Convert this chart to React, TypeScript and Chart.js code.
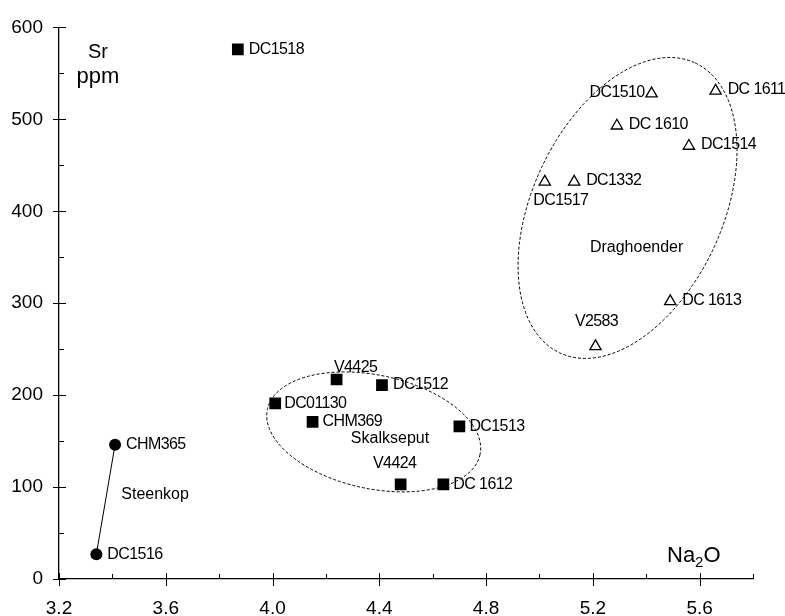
import React, { useEffect, useRef } from 'react';
import { Chart, registerables } from 'chart.js';

Chart.register(...registerables);

// ---- data ----
const steenkopNames = ['CHM365', 'DC1516'];
const steenkopNa2O = [3.41, 3.34];
const steenkopSr = [146, 27];

const skalkNames = ['DC1518', 'V4425', 'DC1512', 'DC01130', 'CHM369', 'DC1513', 'V4424', 'DC 1612'];
const skalkNa2O = [3.87, 4.24, 4.41, 4.01, 4.15, 4.70, 4.48, 4.64];
const skalkSr = [576, 217, 211, 191, 171, 166, 103, 103];

const dragNames = ['DC1510', 'DC 1611', 'DC 1610', 'DC1514', 'DC1332', 'DC1517', 'DC 1613', 'V2583'];
const dragNa2O = [5.42, 5.66, 5.29, 5.56, 5.13, 5.02, 5.49, 5.21];
const dragSr = [528, 531, 493, 471, 432, 432, 302, 253];

const xTickLabels = ['3.2', '3.6', '4.0', '4.4', '4.8', '5.2', '5.6'];
const yTickLabels = ['0', '100', '200', '300', '400', '500', '600'];

// ---- label placement (style, not data) ----
// [dx, dy, align]
const steenkopPlace: [number, number, CanvasTextAlign][] = [[11, 0, 'left'], [11, 0, 'left']];
const skalkPlace: [number, number, CanvasTextAlign][] = [
  [11, 0, 'left'], [19, -12, 'center'], [11, 0, 'left'], [9, 0, 'left'],
  [10, 0, 'left'], [10, 0, 'left'], [-6, -21, 'center'], [10, 0, 'left'],
];
const dragPlace: [number, number, CanvasTextAlign][] = [
  [-7, -1, 'right'], [12, -1, 'left'], [12, -1, 'left'], [12, -1, 'left'],
  [12, -1, 'left'], [16, 19, 'center'], [12, -1, 'left'], [1, -25, 'center'],
];

const FONT = '"Liberation Sans", Arial, Helvetica, sans-serif';

const toPts = (xs: number[], ys: number[]) => xs.map((v, i) => ({ x: v, y: ys[i] }));

const annotPlugin = {
  id: 'annot',
  afterDraw(chart: any) {
    const { ctx, scales } = chart;
    const x = scales.x;
    const y = scales.y;
    ctx.save();
    ctx.strokeStyle = '#000';
    ctx.fillStyle = '#000';

    // axis tick marks
    ctx.lineWidth = 1;
    ctx.setLineDash([]);
    const x0 = x.left;
    const y0 = y.bottom;
    x.ticks.forEach((t: any) => {
      const px = Math.round(x.getPixelForValue(t.value)) + 0.5;
      const major = Math.round(t.value * 10) % 4 === 0;
      ctx.beginPath();
      if (major) {
        ctx.moveTo(px, y0 - 6);
        ctx.lineTo(px, y0 + 7);
      } else {
        ctx.moveTo(px, y0 - 5);
        ctx.lineTo(px, y0);
      }
      ctx.stroke();
    });
    y.ticks.forEach((t: any) => {
      const py = Math.round(y.getPixelForValue(t.value)) + 0.5;
      const major = Math.round(t.value) % 100 === 0;
      ctx.beginPath();
      if (major) {
        ctx.moveTo(x0 - 6, py);
        ctx.lineTo(x0 + 7, py);
      } else {
        ctx.moveTo(x0, py);
        ctx.lineTo(x0 + 5, py);
      }
      ctx.stroke();
    });

    // dashed ellipses
    ctx.setLineDash([3, 2]);
    ctx.lineWidth = 1;
    const ell = (na: number, sr: number, rx: number, ry: number, rotDeg: number) => {
      ctx.beginPath();
      ctx.ellipse(x.getPixelForValue(na), y.getPixelForValue(sr), rx, ry, (rotDeg * Math.PI) / 180, 0, Math.PI * 2);
      ctx.stroke();
    };
    ell(4.379, 160, 108.7, 56.8, 12);
    ell(5.33, 403.6, 160, 95, -65);
    ctx.setLineDash([]);

    // point labels
    ctx.font = `16px ${FONT}`;
    (ctx as any).letterSpacing = '-0.6px';
    ctx.textBaseline = 'middle';
    const lab = (names: string[], xs: number[], ys: number[], place: [number, number, CanvasTextAlign][]) => {
      names.forEach((n, i) => {
        const px = x.getPixelForValue(xs[i]);
        const py = y.getPixelForValue(ys[i]);
        const [dx, dy, al] = place[i];
        ctx.textAlign = al;
        ctx.fillText(n, px + dx, py + dy);
      });
    };
    lab(steenkopNames, steenkopNa2O, steenkopSr, steenkopPlace);
    lab(skalkNames, skalkNa2O, skalkSr, skalkPlace);
    lab(dragNames, dragNa2O, dragSr, dragPlace);

    // group labels
    (ctx as any).letterSpacing = '0px';
    ctx.font = `16px ${FONT}`;
    ctx.textAlign = 'center';
    ctx.fillText('Steenkop', x.getPixelForValue(3.56), y.getPixelForValue(92));
    ctx.fillText('Skalkseput', x.getPixelForValue(4.44), y.getPixelForValue(153));
    ctx.fillText('Draghoender', x.getPixelForValue(5.364), y.getPixelForValue(361));

    // axis titles
    ctx.textBaseline = 'alphabetic';
    ctx.font = `20px ${FONT}`;
    ctx.fillText('Sr', 98, 58);
    ctx.font = `22px ${FONT}`;
    ctx.fillText('ppm', 98, 83);

    ctx.textAlign = 'left';
    ctx.font = `22px ${FONT}`;
    let tx = 667;
    const by = 562;
    ctx.fillText('Na', tx, by);
    tx += ctx.measureText('Na').width;
    ctx.font = `15px ${FONT}`;
    ctx.fillText('2', tx, by + 5);
    tx += ctx.measureText('2').width;
    ctx.font = `22px ${FONT}`;
    ctx.fillText('O', tx, by);

    ctx.restore();
  },
};

export default function App() {
  const ref = useRef<HTMLCanvasElement | null>(null);

  useEffect(() => {
    if (!ref.current) return;
    const chart = new Chart(ref.current, {
      type: 'scatter',
      data: {
        datasets: [
          {
            label: 'Steenkop',
            data: toPts(steenkopNa2O, steenkopSr),
            showLine: true,
            borderColor: '#000',
            borderWidth: 1,
            pointStyle: 'circle',
            pointRadius: 6,
            pointBackgroundColor: '#000',
            pointBorderColor: '#000',
            pointBorderWidth: 0,
          },
          {
            label: 'Skalkseput',
            data: toPts(skalkNa2O, skalkSr),
            showLine: false,
            pointStyle: 'rect',
            pointRadius: 8.3,
            pointBackgroundColor: '#000',
            pointBorderColor: '#000',
            pointBorderWidth: 0,
          },
          {
            label: 'Draghoender',
            data: toPts(dragNa2O, dragSr),
            showLine: false,
            pointStyle: 'triangle',
            pointRadius: 6.5,
            pointBackgroundColor: 'rgba(0,0,0,0)',
            pointBorderColor: '#000',
            pointBorderWidth: 1.3,
          },
        ],
      },
      options: {
        animation: false,
        responsive: false,
        events: [],
        layout: { padding: { top: 20, right: 32, left: 0, bottom: 0 } },
        plugins: { legend: { display: false }, tooltip: { enabled: false } },
        scales: {
          x: {
            type: 'linear',
            min: 3.2,
            max: 5.8,
            afterFit: (s: any) => { s.height = 37; },
            afterBuildTicks: (s: any) => {
              const t = [];
              for (let i = 0; i <= 13; i++) t.push({ value: Math.round((3.2 + i * 0.2) * 10) / 10 });
              s.ticks = t;
            },
            ticks: {
              autoSkip: false,
              maxRotation: 0,
              padding: 18,
              color: '#000',
              font: { family: FONT, size: 19 },
              callback: (v: any) => {
                const s = (Number(v)).toFixed(1);
                return xTickLabels.includes(s) ? s : '';
              },
            },
            grid: { display: false, drawTicks: false },
            border: { display: true, color: '#000', width: 1.3 },
          },
          y: {
            type: 'linear',
            min: 0,
            max: 600,
            afterFit: (s: any) => { s.width = 59; },
            afterBuildTicks: (s: any) => {
              const t = [];
              for (let i = 0; i <= 12; i++) t.push({ value: i * 50 });
              s.ticks = t;
            },
            ticks: {
              autoSkip: false,
              padding: 16,
              color: '#000',
              font: { family: FONT, size: 19 },
              callback: (v: any) => {
                const s = String(Math.round(Number(v)));
                return yTickLabels.includes(s) ? s : '';
              },
            },
            grid: { display: false, drawTicks: false },
            border: { display: true, color: '#000', width: 1.3 },
          },
        },
      },
      plugins: [annotPlugin],
    });
    return () => chart.destroy();
  }, []);

  return (
    <div style={{ position: 'fixed', left: 0, top: 0, width: 785, height: 616, background: '#fff' }}>
      <canvas ref={ref} width={785} height={616} style={{ width: 785, height: 616, display: 'block' }} />
    </div>
  );
}
